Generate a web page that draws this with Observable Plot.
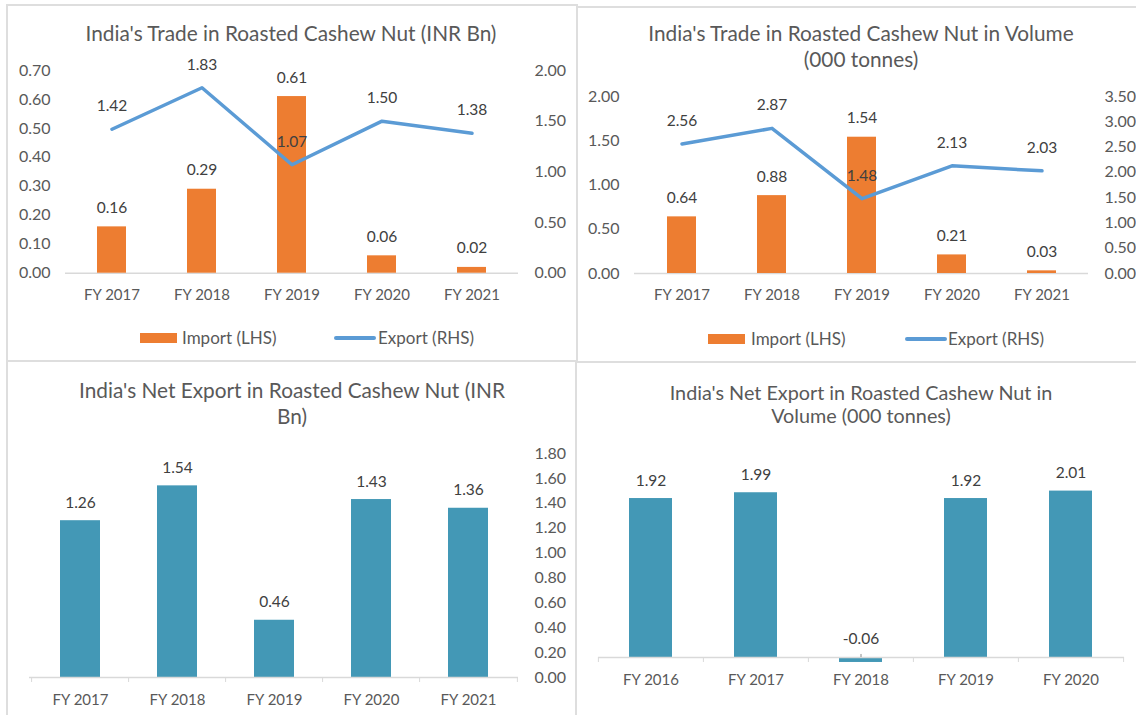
<!DOCTYPE html>
<html><head><meta charset="utf-8">
<script src="https://cdn.jsdelivr.net/npm/d3@7"></script>
<script src="https://cdn.jsdelivr.net/npm/@observablehq/plot@0.6"></script>
<style>
body{margin:0;background:#fff;font-family:Lato,"Open Sans",sans-serif;}
#root{position:relative;width:1136px;height:715px;overflow:hidden;background:#fff;}
.title{position:absolute;transform:translateX(-50%);text-align:center;color:#595959;white-space:nowrap;}
.ln{position:absolute;background:#dedede;}
.leg{position:absolute;color:#595959;font-size:17px;line-height:20px;white-space:nowrap;}
.sw{position:absolute;}
.plot{position:absolute;}
</style></head><body><div id="root"></div>
<script>
// ---------- data ----------
const yearsTrade = ["FY 2017", "FY 2018", "FY 2019", "FY 2020", "FY 2021"];
const importINR = [0.16, 0.29, 0.61, 0.06, 0.02];
const exportINR = [1.42, 1.83, 1.07, 1.50, 1.38];
const importVol = [0.64, 0.88, 1.54, 0.21, 0.03];
const exportVol = [2.56, 2.87, 1.48, 2.13, 2.03];
const yearsNetINR = ["FY 2017", "FY 2018", "FY 2019", "FY 2020", "FY 2021"];
const netINR = [1.26, 1.54, 0.46, 1.43, 1.36];
const yearsNetVol = ["FY 2016", "FY 2017", "FY 2018", "FY 2019", "FY 2020"];
const netVol = [1.92, 1.99, -0.06, 1.92, 2.01];

const ticksLeftINR = [0, 0.1, 0.2, 0.3, 0.4, 0.5, 0.6, 0.7];
const ticksRightINR = [0, 0.5, 1.0, 1.5, 2.0];
const ticksLeftVol = [0, 0.5, 1.0, 1.5, 2.0];
const ticksRightVol = [0, 0.5, 1.0, 1.5, 2.0, 2.5, 3.0, 3.5];
const ticksRightNetINR = [0, 0.2, 0.4, 0.6, 0.8, 1.0, 1.2, 1.4, 1.6, 1.8];

const titles = [
  ["India's Trade in Roasted Cashew Nut (INR Bn)"],
  ["India's Trade in Roasted Cashew Nut in Volume", "(000 tonnes)"],
  ["India's Net Export in Roasted Cashew Nut (INR", "Bn)"],
  ["India's Net Export in Roasted Cashew Nut in", "Volume (000 tonnes)"]
];
const legendLabels = ["Import (LHS)", "Export (RHS)"];

// ---------- styles ----------
const ORANGE = "#ED7D31", BLUE = "#5B9BD5", TEAL = "#4398B6";
const LABEL = "#404040", AXIS = "#595959", BASE = "#d9d9d9";
const FONT = "Lato, 'Open Sans', sans-serif";
const root = document.getElementById("root");
const fmt = d => d.toFixed(2);

function place(el, left, top) {
  el.classList.add("plot");
  el.style.left = left + "px";
  el.style.top = top + "px";
  root.appendChild(el);
}
function baseStyle() {
  return {fontFamily: FONT, fontSize: "15px", color: AXIS, background: "transparent", overflow: "visible"};
}

function dualChart(cats, imp, exp, leftTicks, rightTicks, L) {
  const rows = cats.map((c, i) => ({cat: c, imp: imp[i], exp: exp[i]}));
  const leftMax = leftTicks[leftTicks.length - 1];
  const rightMax = rightTicks[rightTicks.length - 1];
  const k = leftMax / rightMax;
  return Plot.plot({
    width: L.width, height: L.height,
    marginLeft: L.ml, marginRight: L.mr, marginTop: L.mt, marginBottom: L.mb,
    style: baseStyle(),
    x: {domain: cats, paddingInner: 0.68, paddingOuter: 0.34},
    y: {domain: [0, leftMax]},
    marks: [
      Plot.ruleY([0], {stroke: BASE, strokeWidth: 1.5}),
      Plot.barY(rows, {x: "cat", y: "imp", fill: ORANGE}),
      Plot.lineY(rows, {x: "cat", y: d => d.exp * k, stroke: BLUE, strokeWidth: 3.5, strokeLinejoin: "round", strokeLinecap: "round"}),
      Plot.text(rows, {x: "cat", y: "imp", text: d => fmt(d.imp), dy: -19, fill: LABEL, fontSize: 15.5}),
      Plot.text(rows, {x: "cat", y: d => d.exp * k, text: d => fmt(d.exp), dy: -23, fill: LABEL, fontSize: 15.5}),
      Plot.axisY(leftTicks, {anchor: "left", tickSize: 0, tickPadding: 15, tickFormat: fmt, label: null, fontSize: 16}),
      Plot.axisY(rightTicks.map(v => v * k), {anchor: "right", tickSize: 0, tickPadding: 16, textAnchor: "start", tickFormat: d => fmt(d / k), label: null, fontSize: 16}),
      Plot.axisX({tickSize: 0, tickPadding: 16, label: null})
    ]
  });
}

function netChart(cats, vals, rightTicks, domain, L) {
  const rows = cats.map((c, i) => ({cat: c, v: vals[i]}));
  const step = (L.width - L.ml - L.mr) / cats.length;
  const marks = [
    Plot.barY(rows, {x: "cat", y: "v", fill: TEAL}),
    Plot.ruleY([0], {stroke: BASE, strokeWidth: 1.5}),
    Plot.text(rows, {x: "cat", y: d => Math.max(d.v, 0), text: d => fmt(d.v), dy: -18, fill: LABEL, fontSize: 15.5}),
    Plot.ruleX(rows.filter(d => d.v < 0), {x: "cat", y1: "v", y2: 0, insetTop: -8, stroke: "#8c8c8c", strokeWidth: 1}),
    Plot.axisX(cats, {tickSize: 5, dx: -step / 2, tickFormat: () => "", stroke: BASE, label: null}),
    Plot.axisX([cats[cats.length - 1]], {tickSize: 5, dx: step / 2, tickFormat: () => "", stroke: BASE, label: null}),
    Plot.axisX({tickSize: 0, tickPadding: 17, label: null})
  ];
  if (rightTicks) marks.push(Plot.axisY(rightTicks, {anchor: "right", tickSize: 0, tickPadding: 16, textAnchor: "start", tickFormat: fmt, label: null, fontSize: 16}));
  return Plot.plot({
    width: L.width, height: L.height,
    marginLeft: L.ml, marginRight: L.mr, marginTop: L.mt, marginBottom: L.mb,
    style: baseStyle(),
    x: {domain: cats, paddingInner: 0.59, paddingOuter: 0.295},
    y: rightTicks ? {domain: domain} : {domain: domain, axis: null},
    marks
  });
}

// ---------- panel frames ----------
function line(l, t, w, h) {
  const d = document.createElement("div");
  d.className = "ln";
  Object.assign(d.style, {left: l + "px", top: t + "px", width: w + "px", height: h + "px"});
  root.appendChild(d);
}
line(6, 4, 572, 2);     // top-left top
line(6, 4, 2, 711);     // left edge
line(576, 4, 2, 358);   // middle vertical (top)
line(6, 360, 572, 2);   // top-left bottom
line(576, 6, 560, 2);   // top-right top
line(576, 361, 560, 2); // bottom-right top
line(575, 361, 2, 354); // middle vertical (bottom)

// ---------- titles ----------
function title(lines, cx, top, size, lh) {
  const d = document.createElement("div");
  d.className = "title";
  d.innerHTML = lines.join("<br>");
  Object.assign(d.style, {left: cx + "px", top: top + "px", fontSize: size + "px", lineHeight: lh + "px"});
  root.appendChild(d);
}
title(titles[0], 291, 20, 20.8, 26);
title(titles[1], 861, 20, 20.8, 26);
title(titles[2], 292, 377, 20.8, 26);
title(titles[3], 861, 380.5, 19.8, 23);

// ---------- legends ----------
function legend(swX, txtX, lnX, txt2X, cy) {
  const s = document.createElement("div");
  s.className = "sw";
  Object.assign(s.style, {left: swX + "px", top: (cy - 5) + "px", width: "37px", height: "10px", background: ORANGE});
  root.appendChild(s);
  const t = document.createElement("div");
  t.className = "leg"; t.textContent = legendLabels[0];
  Object.assign(t.style, {left: txtX + "px", top: (cy - 10) + "px"});
  root.appendChild(t);
  const l = document.createElement("div");
  l.className = "sw";
  Object.assign(l.style, {left: lnX + "px", top: (cy - 2) + "px", width: "42px", height: "4px", background: BLUE, borderRadius: "2px"});
  root.appendChild(l);
  const t2 = document.createElement("div");
  t2.className = "leg"; t2.textContent = legendLabels[1];
  Object.assign(t2.style, {left: txt2X + "px", top: (cy - 10) + "px"});
  root.appendChild(t2);
}
legend(140, 182, 334, 378, 338);
legend(708, 751, 905, 948, 339);

// ---------- charts ----------
place(dualChart(yearsTrade, importINR, exportINR, ticksLeftINR, ticksRightINR,
  {width: 570, height: 320, ml: 65, mr: 52, mt: 70, mb: 47.3}), 0, 0);
place(dualChart(yearsTrade, importVol, exportVol, ticksLeftVol, ticksRightVol,
  {width: 566, height: 320, ml: 64, mr: 48, mt: 96, mb: 47}), 570, 0);
place(netChart(yearsNetINR, netINR, ticksRightNetINR, [0, 1.8],
  {width: 570, height: 355, ml: 29, mr: 52, mt: 93, mb: 38}), 0, 360);
place(netChart(yearsNetVol, netVol, null, [0, 2.4],
  {width: 566, height: 355, ml: 28, mr: 12, mt: 98.3, mb: 58}), 570, 360);
</script></body></html>
